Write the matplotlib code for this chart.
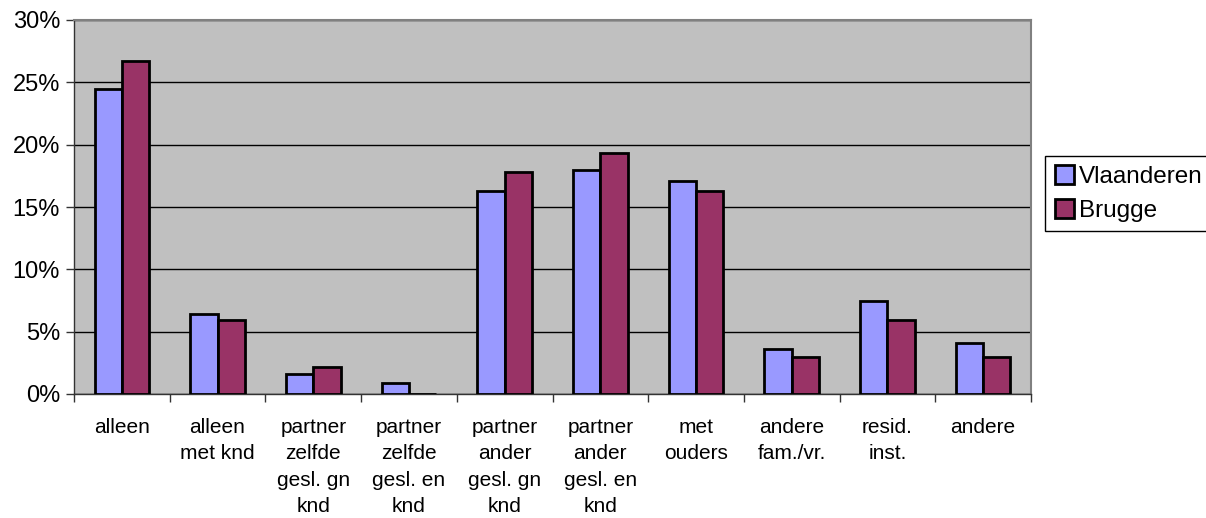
import numpy as np
import matplotlib.pyplot as plt
from matplotlib.ticker import PercentFormatter, FixedLocator

plt.rcParams['font.family'] = ['Liberation Sans', 'DejaVu Sans']

categories = ['alleen', 'alleen\nmet knd', 'partner\nzelfde\ngesl. gn\nknd', 'partner\nzelfde\ngesl. en\nknd',
              'partner\nander\ngesl. gn\nknd', 'partner\nander\ngesl. en\nknd', 'met\nouders',
              'andere\nfam./vr.', 'resid.\ninst.', 'andere']
vlaanderen = [24.5, 6.4, 1.6, 0.9, 16.3, 18.0, 17.1, 3.6, 7.5, 4.1]
brugge = [26.7, 5.9, 2.2, 0.0, 17.8, 19.3, 16.3, 3.0, 5.9, 3.0]

fig = plt.figure(figsize=(12.06, 5.18), dpi=100)
ax = fig.add_axes([74/1206, 124/518, 957/1206, 374/518])
ax.set_facecolor('#c0c0c0')

x = np.arange(len(categories))
w = 0.285
ax.bar(x - w/2, vlaanderen, w, color='#9999ff', edgecolor='black', linewidth=2, label='Vlaanderen', zorder=3)
ax.bar(x + w/2, brugge, w, color='#993366', edgecolor='black', linewidth=2, label='Brugge', zorder=3)

ax.set_xlim(-0.5, len(categories) - 0.5)
ax.set_ylim(0, 30)
ax.set_yticks(np.arange(0, 31, 5))
ax.yaxis.set_major_formatter(PercentFormatter(decimals=0))
ax.grid(axis='y', color='black', linewidth=1, zorder=1)

ax.set_xticks(x)
ax.set_xticklabels(categories, fontsize=15, linespacing=1.5, va='top')
ax.tick_params(axis='x', length=0, pad=17)
ax.xaxis.set_minor_locator(FixedLocator(np.arange(-0.5, len(categories), 1)))
ax.tick_params(axis='x', which='minor', length=6, width=1, color='#333333')
ax.tick_params(axis='y', labelsize=17, length=6, width=1, color='#333333', pad=4)

for side in ['top', 'right']:
    ax.spines[side].set_color('#808080')
    ax.spines[side].set_linewidth(1.5)
for side in ['left', 'bottom']:
    ax.spines[side].set_color('#333333')
    ax.spines[side].set_linewidth(1)

leg = fig.legend(loc='center left', bbox_to_anchor=(1045/1206, (518-193.5)/518), fontsize=17.5,
                 frameon=True, fancybox=False, edgecolor='black', framealpha=1,
                 handlelength=0.8, handleheight=0.8, handletextpad=0.2, borderpad=0.4,
                 labelspacing=0.45, borderaxespad=0)
leg.get_frame().set_linewidth(1)

fig.savefig('out.png', dpi=100)
